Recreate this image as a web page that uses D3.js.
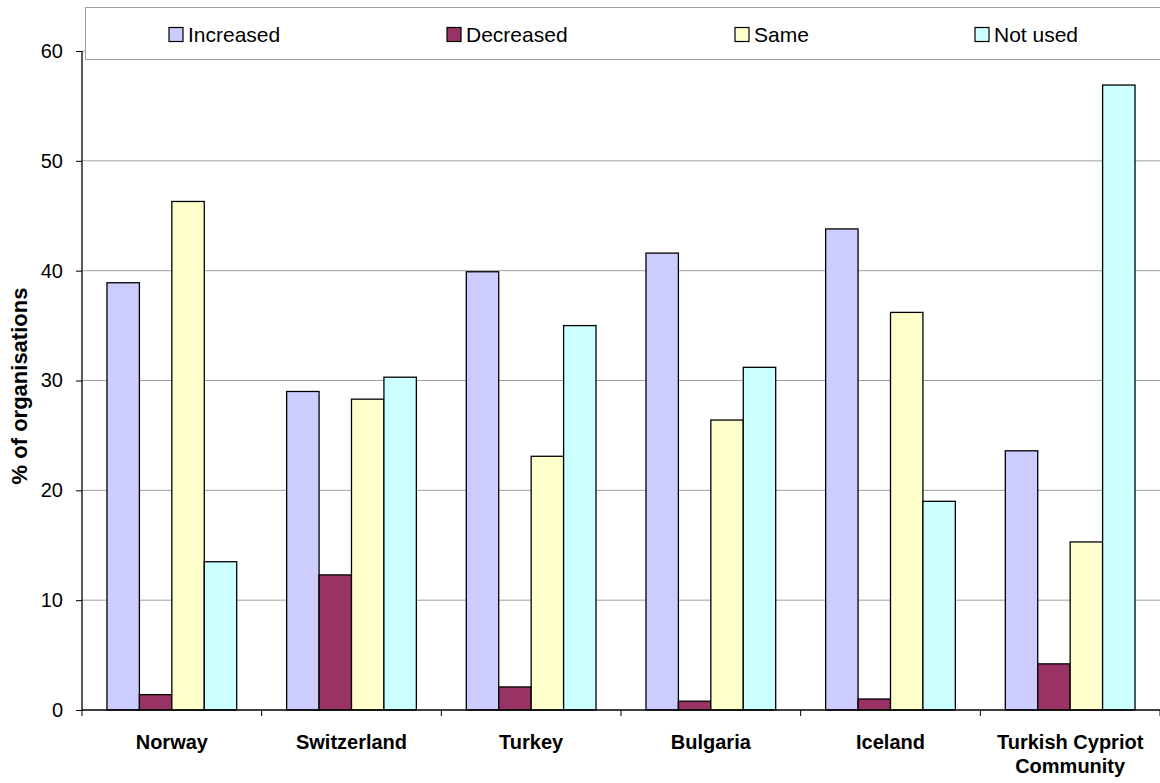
<!DOCTYPE html>
<html><head><meta charset="utf-8">
<script src="https://cdn.jsdelivr.net/npm/d3@7"></script>
<style>body{margin:0;background:#fff}svg{display:block;font-family:"Liberation Sans",Arial,sans-serif}</style>
</head><body><svg id="c" width="1160" height="783"></svg>
<script>
const categories = ["Norway","Switzerland","Turkey","Bulgaria","Iceland","Turkish Cypriot Community"];
const seriesNames = ["Increased","Decreased","Same","Not used"];
const increased = [38.9, 29.0, 39.9, 41.6, 43.8, 23.6];
const decreased = [1.4, 12.3, 2.1, 0.8, 1.0, 4.2];
const same = [46.3, 28.3, 23.1, 26.4, 36.2, 15.3];
const notUsed = [13.5, 30.3, 35.0, 31.2, 19.0, 56.9];
const yTicks = [0,10,20,30,40,50,60];
const colors = ["#CCCCFF","#993366","#FFFFCC","#CCFFFF"];
const series = [increased, decreased, same, notUsed];

const svg = d3.select("#c");
const L = 82, R = 1160, T = 51, B = 710;
const x0 = d3.scaleBand().domain(categories).range([L, R]).paddingInner(0).paddingOuter(0);
const x1 = d3.scaleBand().domain(seriesNames).range([0, x0.bandwidth()]).paddingOuter(0.77).paddingInner(0);
const y = d3.scaleLinear().domain([0, 60]).range([B, T]);

// gridlines
svg.append("g").selectAll("line").data(yTicks.filter(d=>d>0)).join("line")
  .attr("x1", L).attr("x2", R).attr("y1", d=>y(d)).attr("y2", d=>y(d))
  .attr("stroke", "#a0a0a0").attr("stroke-width", 1);

// bars
const g = svg.append("g").selectAll("g").data(categories).join("g")
  .attr("transform", d=>`translate(${x0(d)},0)`);
g.selectAll("rect").data((c,i)=>seriesNames.map((s,j)=>({s, v: series[j][i], j}))).join("rect")
  .attr("x", d=>x1(d.s)).attr("width", x1.bandwidth())
  .attr("y", d=>y(d.v)).attr("height", d=>B - y(d.v))
  .attr("fill", d=>colors[d.j]).attr("stroke", "#000").attr("stroke-width", 1.3);

// y axis
const ya = svg.append("g").attr("transform", `translate(${L},0)`)
  .call(d3.axisLeft(y).tickValues(yTicks).tickSize(6).tickPadding(13));
ya.select(".domain").attr("stroke","#000").attr("stroke-width",1.3).attr("d", `M0,${T}V${B}`);
ya.selectAll(".tick line").attr("stroke","#000");
ya.selectAll("text").attr("font-size", 20).attr("fill","#000").attr("font-family","Liberation Sans, Arial, sans-serif");

// x axis
const xa = svg.append("g").attr("transform", `translate(0,${B})`);
xa.append("line").attr("x1", L).attr("x2", R).attr("y1",0).attr("y2",0).attr("stroke","#000").attr("stroke-width",1.3);
const bounds = categories.map(c=>x0(c)).concat([R]);
xa.selectAll("line.t").data(bounds).join("line").attr("class","t")
  .attr("x1", d=>d).attr("x2", d=>d).attr("y1",0).attr("y2",6).attr("stroke","#000");
xa.selectAll("text").data(categories).join("text")
  .attr("x", d=>x0(d)+x0.bandwidth()/2).attr("y", 39)
  .attr("text-anchor","middle").attr("font-size",20).attr("font-weight","bold")
  .each(function(d){
    const words = d === "Turkish Cypriot Community" ? ["Turkish Cypriot","Community"] : [d];
    const t = d3.select(this);
    words.forEach((w,i)=>t.append("tspan").attr("x", x0(d)+x0.bandwidth()/2).attr("dy", i?24:0).text(w));
  });

// y label
svg.append("text").attr("transform","translate(27,386) rotate(-90)")
  .attr("text-anchor","middle").attr("font-size",22).attr("font-weight","bold").text("% of organisations");

// legend
svg.append("rect").attr("x",85.5).attr("y",7.5).attr("width",1080).attr("height",52)
  .attr("fill","#fff").attr("stroke","#a0a0a0").attr("stroke-width",1);
const legX = [169, 447, 735, 975];
const lg = svg.append("g").selectAll("g").data(seriesNames).join("g")
  .attr("transform",(d,i)=>`translate(${legX[i]},27.5)`);
lg.append("rect").attr("width",14).attr("height",14).attr("fill",(d,i)=>colors[i]).attr("stroke","#000").attr("stroke-width",1.2);
lg.append("text").attr("x",19).attr("y",14).attr("font-size",21).text(d=>d);
</script></body></html>
